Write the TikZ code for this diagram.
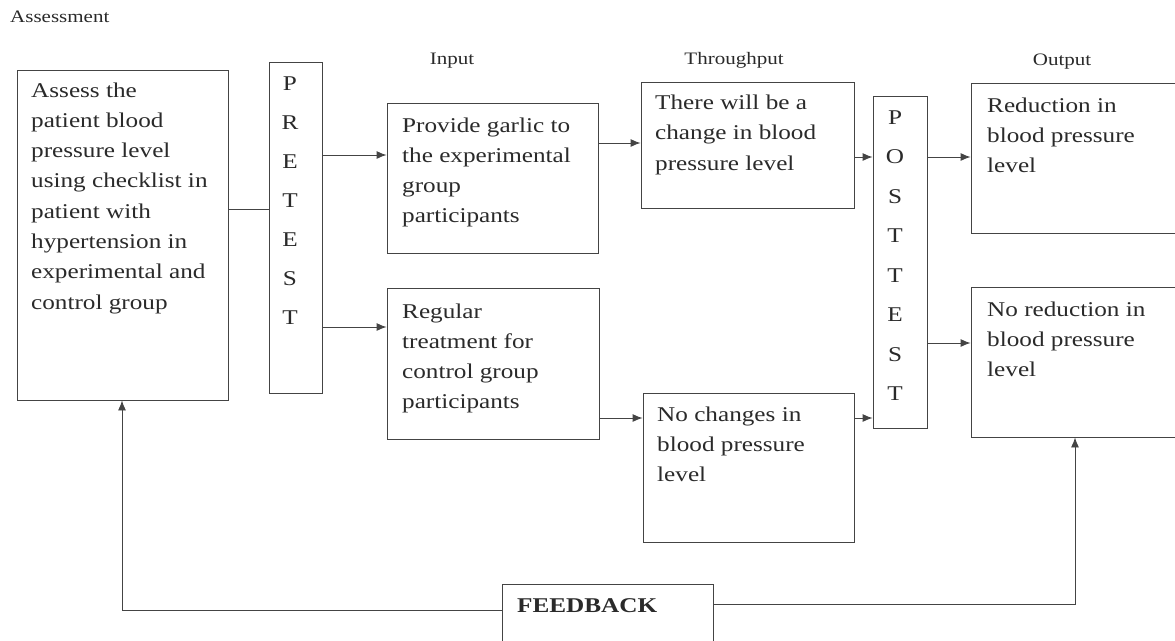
\documentclass[tikz,border=0pt]{standalone}
\usepackage{fontspec}
\setmainfont{Liberation Serif}[FakeStretch=1.2]
\usetikzlibrary{arrows.meta}
\definecolor{ink}{HTML}{2A2A2A}
\definecolor{lineink}{HTML}{444444}
\newcommand\mltext[2][30.3pt]{\vtop{\baselineskip=#1\relax\lineskiplimit=-20pt\halign{##\hfil\cr#2\crcr}}}
\newcommand\mlletters[2][39pt]{\vtop{\baselineskip=#1\relax\lineskiplimit=-20pt\halign{\hfil##\hfil\cr#2\crcr}}}
\tikzset{
  box/.style={draw=lineink, line width=0.9pt, inner sep=0pt},
  txt/.style={anchor=base west, inner sep=0pt, text=ink, font=\fontsize{21}{30}\selectfont},
  hdr/.style={anchor=base, inner sep=0pt, text=ink, font=\fontsize{17.5}{20}\selectfont},
  conn/.style={draw=lineink, line width=0.9pt},
  arr/.style={conn, -{Latex[length=10pt,width=8pt]}}
}
\begin{document}
\begin{tikzpicture}[x=1pt,y=-1pt]
\clip (0,0) rectangle (1175,640);
\fill[white] (0,0) rectangle (1175,640);
% boxes
\node[box, minimum width=211pt, minimum height=330pt] (assess) at (122.5,235) {};
\node[box, minimum width=53pt, minimum height=331pt] (pre) at (295.5,227.5) {};
\node[box, minimum width=211pt, minimum height=150pt] (garlic) at (492.5,178) {};
\node[box, minimum width=212pt, minimum height=151pt] (regular) at (493,363.5) {};
\node[box, minimum width=213pt, minimum height=126pt] (thru) at (747.5,145) {};
\node[box, minimum width=211pt, minimum height=149pt] (nochg) at (748.5,467.5) {};
\node[box, minimum width=54pt, minimum height=332pt] (post) at (900,262) {};
\node[box, minimum width=214pt, minimum height=150pt] (out1) at (1078,158) {};
\node[box, minimum width=214pt, minimum height=150pt] (out2) at (1078,362) {};
\node[box, minimum width=211pt, minimum height=80pt] (fb) at (607.5,624) {};
% texts
\node[hdr, anchor=base west] (hassess) at (10,22) {Assessment};
\node[hdr] (hinput) at (452,64) {Input};
\node[hdr] (hthru) at (734,64) {Throughput};
\node[hdr] (hout) at (1062,65) {Output};
\node[txt] (tassess) at (31,97) {\mltext{Assess the\cr patient blood\cr pressure level\cr using checklist in\cr patient with\cr hypertension in\cr experimental and\cr control group}};
\node[txt, anchor=base] (tpre) at (290,90) {\mlletters{P\cr R\cr E\cr T\cr E\cr S\cr T}};
\node[txt] (tgarlic) at (402,132) {\mltext{Provide garlic to\cr the experimental\cr group\cr participants}};
\node[txt] (tregular) at (402,318) {\mltext{Regular\cr treatment for\cr control group\cr participants}};
\node[txt] (tthru) at (655,109) {\mltext[30.5pt]{There will be a\cr change in blood\cr pressure level}};
\node[txt] (tnochg) at (657,421) {\mltext{No changes in\cr blood pressure\cr level}};
\node[txt, anchor=base] (tpost) at (895,124) {\mlletters[39.5pt]{P\cr O\cr S\cr T\cr T\cr E\cr S\cr T}};
\node[txt] (tout1) at (987,112) {\mltext{Reduction in\cr blood pressure\cr level}};
\node[txt] (tout2) at (987,316) {\mltext{No reduction in\cr blood pressure\cr level}};
\node[txt, font=\fontsize{21}{30}\selectfont\bfseries] (tfb) at (517,612) {FEEDBACK};
% connector levels
\coordinate (y209) at (0,209);
\coordinate (y155) at (0,155);
\coordinate (y327) at (0,327);
\coordinate (y143) at (0,143);
\coordinate (y418) at (0,418);
\coordinate (y157) at (0,157);
\coordinate (y343) at (0,343);
\coordinate (y610) at (0,610);
\coordinate (y604) at (0,604);
\coordinate (xl) at (122,0);
\coordinate (xr) at (1075,0);
% connectors
\draw[conn] (assess.east |- y209) -- (pre.west |- y209);
\draw[arr] (pre.east |- y155) -- (garlic.west |- y155);
\draw[arr] (pre.east |- y327) -- (regular.west |- y327);
\draw[arr] (garlic.east |- y143) -- (thru.west |- y143);
\draw[arr] (regular.east |- y418) -- (nochg.west |- y418);
\draw[arr] (thru.east |- y157) -- (post.west |- y157);
\draw[arr] (nochg.east |- y418) -- (post.west |- y418);
\draw[arr] (post.east |- y157) -- (out1.west |- y157);
\draw[arr] (post.east |- y343) -- (out2.west |- y343);
\draw[arr] (fb.west |- y610) -- (xl |- y610) -- (xl |- assess.south);
\draw[arr] (fb.east |- y604) -- (xr |- y604) -- (xr |- out2.south);
\end{tikzpicture}
\end{document}
